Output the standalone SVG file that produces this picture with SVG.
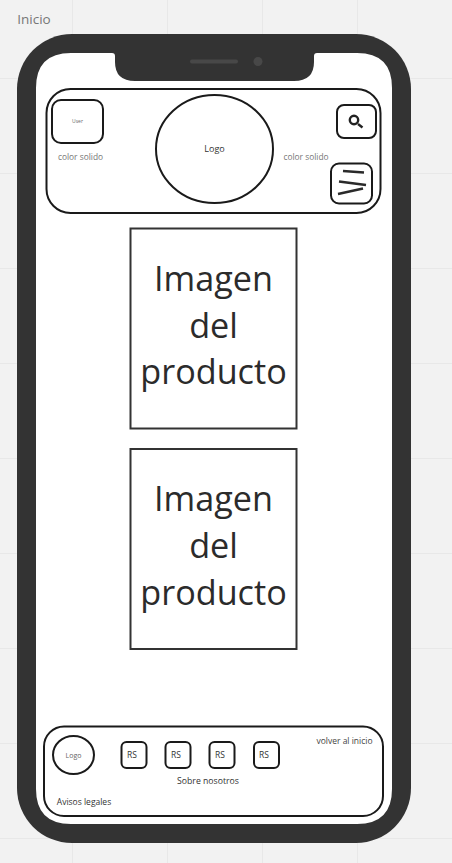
<svg xmlns="http://www.w3.org/2000/svg" width="452" height="863" viewBox="0 0 452 863">
<style>
text{font-family:"Open Sans","Noto Sans",sans-serif;text-anchor:middle}
.o{fill:#fff;stroke:#1a1a1a;stroke-width:2}
.p{fill:#fff;stroke:#333;stroke-width:2}
.g{stroke:#e8e8e8;stroke-width:1;fill:none}
.s{font-size:8.500px;fill:#333}
.c{font-size:8.400px;fill:#777}
.rs{font-size:8.500px;fill:#333}
.big{font-size:34.200px;fill:#2b2b2b}
</style>
<rect width="452" height="863" fill="#f2f2f2"/>
<path class="g" d="M72.500 0V863M167.500 0V863M262.500 0V863M357.500 0V863M0 78.500H452M0 173.500H452M0 268.500H452M0 363.500H452M0 458.500H452M0 553.500H452M0 648.500H452M0 743.500H452M0 838.500H452"/>
<text x="34" y="24" style="font-size:13.500px;fill:#777">Inicio</text>
<g id="phone">
<rect x="17" y="34" width="394" height="809" rx="55" fill="#333"/>
<path d="M71 53H112Q115 53 115 56V62Q115 81 135 81H294Q314 81 314 62V56Q314 53 317 53H357Q392 53 392 88V789Q392 824 357 824H71Q36 824 36 789V88Q36 53 71 53Z" fill="#fff"/>
<rect x="190" y="59.500" width="48" height="4" rx="2" fill="#484848"/>
<circle cx="258" cy="61.500" r="4.500" fill="#484848"/>
</g>
<g id="header">
<rect class="o" x="46.500" y="89" width="334" height="124" rx="24"/>
<text x="80.500" y="160" class="c">color solido</text>
<text x="306" y="160" class="c">color solido</text>
</g>
<g id="user">
<rect class="o" x="52" y="100" width="51" height="43" rx="9"/>
<text x="77.500" y="123" style="font-size:5px;fill:#666">User</text>
</g>
<g id="logo">
<ellipse class="o" cx="214.500" cy="149" rx="58.500" ry="54"/>
<text x="214.500" y="152" class="s" style="font-size:9px">Logo</text>
</g>
<g id="search">
<rect class="o" x="337" y="105" width="39" height="33" rx="7"/>
<circle cx="354" cy="120" r="4.200" fill="none" stroke="#222" stroke-width="2.400"/>
<path d="M358 124L362.500 127.500" stroke="#222" stroke-width="2.400"/>
</g>
<g id="menu">
<rect class="o" x="331" y="163.500" width="41" height="40" rx="8"/>
<path d="M343 171L364 172.500M339 181.500L366 185M338 194L363 188.500" stroke="#2a2a2a" stroke-width="2.500" fill="none"/>
</g>
<g id="producto1">
<rect class="p" x="130.500" y="228.500" width="166" height="200"/>
<text class="big"><tspan x="213.500" y="291">Imagen</tspan><tspan x="213.500" y="338">del</tspan><tspan x="213.500" y="384">producto</tspan></text>
</g>
<g id="producto2">
<rect class="p" x="130.500" y="449" width="166" height="200"/>
<text class="big"><tspan x="213.500" y="511">Imagen</tspan><tspan x="213.500" y="558">del</tspan><tspan x="213.500" y="605">producto</tspan></text>
</g>
<g id="footer">
<rect class="o" x="44" y="726.500" width="339" height="89.500" rx="20"/>
<text x="344.500" y="744" class="s" style="fill:#444">volver al inicio</text>
<text x="208" y="784" class="s" style="font-size:8.700px">Sobre nosotros</text>
<text x="84" y="805" class="s">Avisos legales</text>
</g>
<g id="footer-logo">
<ellipse class="o" cx="73.500" cy="755" rx="20.500" ry="19"/>
<text x="73.500" y="757.500" style="font-size:7px;fill:#666">Logo</text>
</g>
<g id="rs1"><rect class="o" x="121.500" y="742" width="25" height="26" rx="5"/><text x="132" y="758" class="rs">RS</text></g>
<g id="rs2"><rect class="o" x="165.500" y="742" width="25" height="26" rx="5"/><text x="176" y="758" class="rs">RS</text></g>
<g id="rs3"><rect class="o" x="209.500" y="742" width="25" height="26" rx="5"/><text x="220" y="758" class="rs">RS</text></g>
<g id="rs4"><rect class="o" x="254" y="742" width="25" height="26" rx="5"/><text x="264" y="758" class="rs">RS</text></g>
</svg>
